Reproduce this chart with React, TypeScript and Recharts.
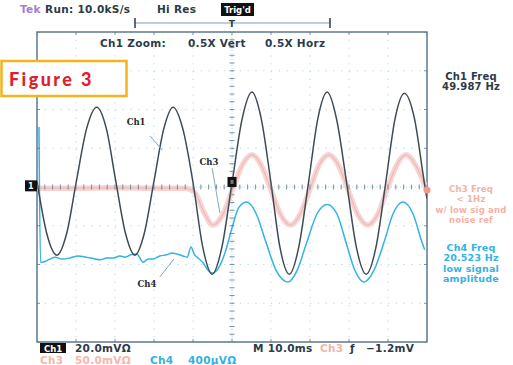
import React from 'react';
import {
  ComposedChart,
  Line,
  Scatter,
  XAxis,
  YAxis,
  CartesianGrid,
  ReferenceArea,
  ReferenceLine,
  ReferenceDot,
} from 'recharts';

// screen time in ms (10 ms/div), level in screen divisions (0 = centre line)
const timeTicks = [0, 10, 20, 30, 40, 50, 60, 70, 80, 90, 100];
const divTicks = [-4, -3, -2, -1, 0, 1, 2, 3, 4];

// Ch1: mains-coupled input
const ch1: [number, number][] = [
  [0, 0.15], [2.5, -1.2], [5.1, -1.76], [7.6, -1.2], [10.1, 0.15], [12.7, 1.5],
  [15.3, 2.06], [17.8, 1.5], [20.2, 0.15], [22.7, -1.2], [25.1, -1.76], [27.5, -1.2],
  [30, 0.15], [32.5, 1.5], [34.9, 2.06], [37.4, 1.5], [40, 0.12], [42.5, -1.55],
  [44.9, -2.25], [47.4, -1.56], [50, 0.1], [52.6, 1.76], [55.1, 2.45], [57.5, 1.76],
  [60, 0.1], [62.3, -1.56], [64.7, -2.25], [67.1, -1.56], [69.6, 0.1], [72, 1.76],
  [74.4, 2.45], [76.8, 1.76], [79.4, 0.1], [81.9, -1.56], [84.4, -2.25], [86.9, -1.56],
  [89.4, 0.1], [91.8, 1.76], [94.2, 2.42], [96.8, 1.76], [99.3, 0.12], [100, -0.3],
];

// Ch3: flat until the switch closes, then follows Ch1
const ch3: [number, number][] = [
  [0, -0.03], [10, -0.03], [20, -0.02], [30, -0.03], [38, -0.03], [40.5, -0.15],
  [42.8, -0.65], [45.1, -0.98], [47.6, -0.72], [50.1, -0.08], [52.6, 0.56], [55.1, 0.83],
  [57.5, 0.56], [60, -0.08], [62.5, -0.72], [65, -0.98], [67.4, -0.72], [69.9, -0.08],
  [72.3, 0.56], [74.8, 0.83], [77.3, 0.56], [79.8, -0.08], [82.3, -0.72], [84.8, -0.98],
  [87.3, -0.72], [89.7, -0.08], [92.2, 0.56], [94.6, 0.83], [97.1, 0.56], [100, -0.1],
];

// Ch4: low amplitude, noisy before the switch
const ch4: [number, number][] = [
  [0.5, 1.55], [0.9, -1.94], [1.5, -1.94], [3.3, -1.86], [4.6, -1.81], [6.4, -1.86],
  [8.5, -1.83], [10.5, -1.78], [12.6, -1.81], [14.9, -1.86], [16.2, -1.88], [17.9, -1.83],
  [19.5, -1.83], [21.3, -1.78], [22.6, -1.81], [24.1, -1.75], [25.6, -1.73], [27.2, -1.94],
  [28.5, -1.86], [29.7, -1.86], [31.5, -1.78], [33.3, -1.75], [34.6, -1.7], [35.9, -1.73],
  [37.4, -1.78], [38.5, -1.81], [39.5, -1.55], [40.3, -1.73], [41.3, -1.83], [42.6, -1.96],
  [43.8, -2.14], [44.9, -2.22], [46.2, -2.14], [48.2, -1.7], [50, -1.06], [51.8, -0.52],
  [53.8, -0.39], [56.2, -0.69], [58.7, -1.42], [61.3, -2.15], [64.4, -2.45], [66.7, -2.15],
  [69.2, -1.42], [71.8, -0.69], [74.4, -0.45], [76.9, -0.69], [79.2, -1.42], [81.5, -2.15],
  [83.8, -2.45], [86.4, -2.15], [89, -1.42], [91.3, -0.69], [93.8, -0.39], [96.4, -0.69],
  [98.7, -1.42], [99.4, -1.62],
];

// readout text blocks
const ch1Readout = ['Ch1 Freq', '49.987 Hz'];
const ch3Readout = ['Ch3 Freq', '< 1Hz', 'w/ low sig and', 'noise ref'];
const ch4Readout = ['Ch4 Freq', '20.523 Hz', 'low signal', 'amplitude'];

const toRows = (pts: [number, number][]) => pts.map(([t, v]) => ({ t, v }));

// graticule centre-cross and edge tick marks
const crossH = Array.from({ length: 51 }, (_, i) => ({ t: i * 2, v: 0 }));
const crossV = Array.from({ length: 41 }, (_, i) => ({ t: 50, v: -4 + i * 0.2 }));
const edgeTB = timeTicks.flatMap((t) => [{ t, v: 4 }, { t, v: -4 }]);
const edgeLR = divTicks.flatMap((v) => [{ t: 0, v }, { t: 100, v }]);

const GRID = '#b3d8ec';
const FRAME = '#5f7a90';
const TXT = '#2d3a48';
const CH1 = '#3e4b56';
const CH3 = '#f7d5d3';
const CH3_CORE = '#efb9b5';
const CH4 = '#33b2e4';
const RED = '#f29a86';

const vTick = (len: number) => (p: any) => (
  <line x1={p.cx} x2={p.cx} y1={p.cy - len} y2={p.cy + len} stroke={FRAME} strokeWidth={1} opacity={0.8} />
);
const hTick = (len: number) => (p: any) => (
  <line x1={p.cx - len} x2={p.cx + len} y1={p.cy} y2={p.cy} stroke={FRAME} strokeWidth={1} opacity={0.8} />
);

const tag = (text: string) => (p: any) => (
  <text
    x={p.cx}
    y={p.cy}
    textAnchor="middle"
    dominantBaseline="central"
    fontFamily="'DejaVu Serif', 'Liberation Serif', serif"
    fontWeight="bold"
    fontSize={8.5}
    fill="#2a2a2a"
    stroke="#fff"
    strokeWidth={2}
    paintOrder="stroke"
  >
    {text}
  </text>
);

const scr = {
  fontFamily: "'DejaVu Sans', sans-serif",
  fontWeight: 'bold' as const,
  fontSize: 10.5,
  letterSpacing: 0.3,
};

const Readout: React.FC<{ lines: string[]; top: number; color: string; size: number; opacity?: number }> = ({
  lines,
  top,
  color,
  size,
  opacity = 1,
}) => (
  <g textAnchor="middle" fill={color} opacity={opacity} {...scr} fontSize={size} letterSpacing={0.2}>
    {lines.map((s, i) => (
      <text key={s} x={471} y={top + i * 10.4}>
        {s}
      </text>
    ))}
  </g>
);

const App: React.FC = () => {
  return (
    <div style={{ position: 'absolute', left: 0, top: 0, width: 513, height: 365, background: '#fff' }}>
      <ComposedChart width={513} height={365} margin={{ top: 32, right: 86, bottom: 23, left: 37 }}>
        <XAxis type="number" dataKey="t" domain={[0, 100]} ticks={timeTicks} hide allowDataOverflow />
        <YAxis type="number" dataKey="v" domain={[-4, 4]} ticks={divTicks} hide allowDataOverflow />
        <CartesianGrid stroke={GRID} strokeDasharray="1.2 6.6" />
        <ReferenceLine x={50} stroke={GRID} strokeDasharray="1 2" />
        <ReferenceLine y={0} stroke={GRID} strokeDasharray="1 2" />
        <Scatter data={crossH} dataKey="v" shape={vTick(2.5)} isAnimationActive={false} />
        <Scatter data={crossV} dataKey="v" shape={hTick(2.5)} isAnimationActive={false} />
        <Scatter data={edgeTB} dataKey="v" shape={vTick(3)} isAnimationActive={false} />
        <Scatter data={edgeLR} dataKey="v" shape={hTick(3)} isAnimationActive={false} />
        <ReferenceArea x1={0} x2={100} y1={-4} y2={4} fill="none" stroke={FRAME} strokeWidth={1.5} />

        <Line data={toRows(ch3)} dataKey="v" type="monotone" stroke={CH3} strokeWidth={5.5} dot={false} isAnimationActive={false} />
        <Line data={toRows(ch3)} dataKey="v" type="monotone" stroke={CH3_CORE} strokeWidth={1.2} dot={false} isAnimationActive={false} />
        <Line data={toRows(ch4)} dataKey="v" type="monotone" stroke={CH4} strokeWidth={1.5} dot={false} isAnimationActive={false} />
        <Line data={toRows(ch1)} dataKey="v" type="monotone" stroke={CH1} strokeWidth={1.5} dot={false} isAnimationActive={false} />

        {/* trace labels with leaders */}
        <ReferenceLine segment={[{ x: 29, y: 1.32 }, { x: 32.1, y: 0.95 }]} stroke="#7fa8c2" />
        <ReferenceLine segment={[{ x: 44.9, y: 0.49 }, { x: 46.9, y: -0.67 }]} stroke="#7fa8c2" />
        <ReferenceLine segment={[{ x: 31.5, y: -2.32 }, { x: 35.1, y: -1.86 }]} stroke="#7fa8c2" />
        <ReferenceDot x={25.4} y={1.68} shape={tag('Ch1')} />
        <ReferenceDot x={44.1} y={0.65} shape={tag('Ch3')} />
        <ReferenceDot x={28.2} y={-2.5} shape={tag('Ch4')} />

        {/* ground / trigger markers */}
        <ReferenceDot
          x={0}
          y={0.03}
          shape={(p: any) => (
            <g>
              <rect x={p.cx - 12} y={p.cy - 5.5} width={12} height={11} fill="#111" />
              <text x={p.cx - 6} y={p.cy + 3.5} textAnchor="middle" fill="#fff" {...scr} fontSize={8}>1</text>
            </g>
          )}
        />
        <ReferenceDot
          x={50}
          y={0.13}
          shape={(p: any) => (
            <g>
              <rect x={p.cx - 4.5} y={p.cy - 5} width={9} height={10} fill="#111" />
              <rect x={p.cx - 1.5} y={p.cy - 2} width={3} height={4} fill="#777" />
            </g>
          )}
        />
        <ReferenceDot x={100} y={-0.08} r={3.5} fill={RED} stroke="none" />
      </ComposedChart>

      <svg width={513} height={365} style={{ position: 'absolute', left: 0, top: 0, pointerEvents: 'none' }}>
        {/* header */}
        <text x={20} y={13} fill="#a97ccb" {...scr}>Tek</text>
        <text x={45} y={13} fill={TXT} {...scr}>Run: 10.0kS/s</text>
        <text x={157} y={13} fill={TXT} {...scr}>Hi Res</text>
        <rect x={221} y={3} width={33} height={13} fill="#111" />
        <text x={237.5} y={13} textAnchor="middle" fill="#fff" {...scr} fontSize={8.5} letterSpacing={0}>Trig'd</text>
        <line x1={135} x2={330} y1={23} y2={23} stroke="#7f9fb5" strokeWidth={1} />
        <line x1={135} x2={135} y1={18} y2={28} stroke={TXT} strokeWidth={1.5} />
        <line x1={330} x2={330} y1={18} y2={28} stroke={TXT} strokeWidth={1.5} />
        <text x={232} y={27} textAnchor="middle" fill={TXT} {...scr} fontSize={9}>T</text>
        <text x={100} y={47} fill={TXT} {...scr}>Ch1 Zoom:</text>
        <text x={188} y={47} fill={TXT} {...scr}>0.5X Vert</text>
        <text x={265} y={47} fill={TXT} {...scr}>0.5X Horz</text>

        {/* figure tag */}
        <rect x={1.5} y={61} width={125} height={35} fill="#fff" stroke="#f4b41a" strokeWidth={2.5} />
        <text
          x={9}
          y={86}
          fill="#e11d2a"
          fontFamily="Lato, 'Open Sans', sans-serif"
          fontWeight="900"
          fontSize={18}
          letterSpacing={2.4}
        >
          Figure 3
        </text>

        {/* readouts on the right */}
        <Readout lines={ch1Readout} top={80} color={TXT} size={10} />
        <Readout lines={ch3Readout} top={192} color={RED} size={8.5} opacity={0.75} />
        <Readout lines={ch4Readout} top={251} color={CH4} size={9.5} />

        {/* channel settings */}
        <rect x={40} y={343} width={26} height={10} fill="#111" />
        <text x={53} y={352} textAnchor="middle" fill="#fff" {...scr} fontSize={8.5} letterSpacing={0}>Ch1</text>
        <text x={75} y={352} fill={TXT} {...scr}>20.0mVΩ</text>
        <text x={253} y={352} fill={TXT} {...scr}>M 10.0ms</text>
        <text x={320} y={352} fill={RED} opacity={0.75} {...scr}>Ch3</text>
        <text x={350} y={352} fill={TXT} {...scr}>ƒ</text>
        <text x={366} y={352} fill={TXT} {...scr}>−1.2mV</text>
        <text x={40} y={364} fill={RED} opacity={0.7} {...scr}>Ch3</text>
        <text x={75} y={364} fill={RED} opacity={0.7} {...scr}>50.0mVΩ</text>
        <text x={150} y={364} fill={CH4} {...scr}>Ch4</text>
        <text x={188} y={364} fill={CH4} {...scr}>400µVΩ</text>
      </svg>
    </div>
  );
};

export default App;
